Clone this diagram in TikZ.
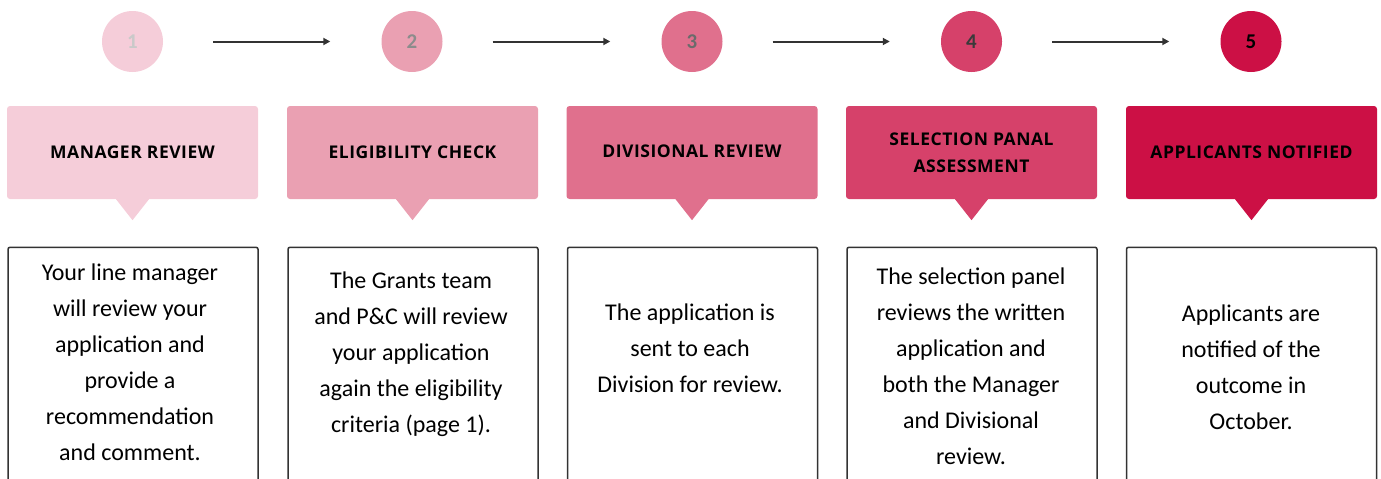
\documentclass[tikz,border=0pt]{standalone}
\usepackage{fontspec}
\setmainfont{Carlito}
\newfontfamily\headfont[LetterSpace=3]{Open Sans Bold}
\usetikzlibrary{arrows.meta}
\definecolor{pk1}{HTML}{F5CDD9}
\definecolor{pk2}{HTML}{EAA0B2}
\definecolor{pk3}{HTML}{E0708D}
\definecolor{pk4}{HTML}{D6416A}
\definecolor{pk5}{HTML}{CC1045}
\definecolor{nm1}{HTML}{C9C9C9}
\definecolor{nm2}{HTML}{8C8C8C}
\definecolor{nm3}{HTML}{6B6B6B}
\definecolor{nm4}{HTML}{3A3A3A}
\definecolor{nm5}{HTML}{000000}
\definecolor{edge}{HTML}{333333}
\definecolor{arr}{HTML}{333333}
\begin{document}
\begin{tikzpicture}[x=1pt,y=-1pt,
  numcirc/.style={circle,minimum size=61pt,inner sep=0pt,font={\fontsize{21}{21}\selectfont\bfseries}},
  headbox/.style={rectangle,rounded corners=3pt,minimum width=251pt,minimum height=93pt,inner sep=0pt,align=center,font={\headfont\fontsize{17.5}{27}\selectfont}},
  bodybox/.style={rectangle,rounded corners=2pt,draw=edge,line width=1.5pt,minimum width=250pt,minimum height=260pt,anchor=north,fill=white},
  bodytext/.style={anchor=base,align=center,inner sep=0pt,font={\fontsize{24}{36}\selectfont}},
  flow/.style={draw=arr,line width=2pt,-{Triangle[length=7pt,width=7pt]},shorten <=50pt,shorten >=51pt}
]
\useasboundingbox (0,0) rectangle (1381,479);
\begin{scope}
\clip (0,0) rectangle (1381,479);
% circles
\node[numcirc,fill=pk1,text=nm1] (c1) at (132.5,41.5) {1};
\node[numcirc,fill=pk2,text=nm2] (c2) at (412,41.5) {2};
\node[numcirc,fill=pk3,text=nm3] (c3) at (692,41.5) {3};
\node[numcirc,fill=pk4,text=nm4] (c4) at (971.5,41.5) {4};
\node[numcirc,fill=pk5,text=nm5] (c5) at (1251,41.5) {5};
\draw[flow] (c1) -- (c2);
\draw[flow] (c2) -- (c3);
\draw[flow] (c3) -- (c4);
\draw[flow] (c4) -- (c5);
% header boxes
\node[headbox,fill=pk1] (h1) at (132.5,152.5) {MANAGER REVIEW};
\node[headbox,fill=pk2] (h2) at (412.5,152.5) {ELIGIBILITY CHECK};
\node[headbox,fill=pk3] (h3) at (692,152.5) {\raisebox{2.5pt}{DIVISIONAL REVIEW}};
\node[headbox,fill=pk4] (h4) at (971.5,152.5) {SELECTION PANAL\\ASSESSMENT};
\node[headbox,fill=pk5] (h5) at (1251.5,152.5) {APPLICANTS NOTIFIED};
\foreach \i in {1,...,5}{
  \fill[pk\i] ([xshift=-16.5pt]h\i.south) -- ([xshift=16.5pt]h\i.south) -- ([yshift=-21pt]h\i.south) -- cycle;
}
% body boxes
\node[bodybox] (b1) at (133,246.5) {};
\node[bodybox] (b2) at (413,246.5) {};
\node[bodybox] (b3) at (692.5,246.5) {};
\node[bodybox] (b4) at (972,246.5) {};
\node[bodybox] (b5) at (1251.5,246.5) {};
\node[bodytext] (t1) at (130,460) {Your line manager\\will review your\\application and\\provide a\\recommendation\\and comment.};
\node[bodytext] (t2) at (411,432) {The Grants team\\and P\&C will review\\your application\\again the eligibility\\criteria (page 1).};
\node[bodytext] (t3) at (690,392) {The application is\\sent to each\\Division for review.};
\node[bodytext] (t4) at (971,464) {The selection panel\\reviews the written\\application and\\both the Manager\\and Divisional\\review.};
\node[bodytext] (t5) at (1251,429) {Applicants are\\notified of the\\outcome in\\October.};
\end{scope}
\end{tikzpicture}
\end{document}
